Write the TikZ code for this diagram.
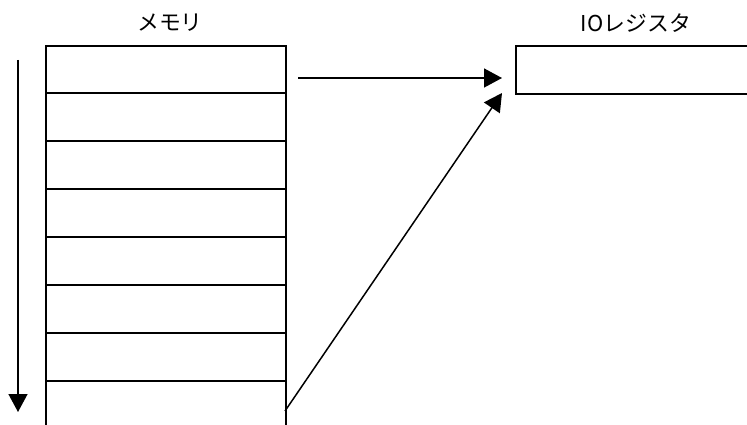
\documentclass[tikz,border=0pt]{standalone}
\usepackage{fontspec}
\setmainfont{Noto Sans CJK JP}
\usetikzlibrary{arrows.meta}
\begin{document}
\begin{tikzpicture}[x=1pt,y=-1pt,line width=1.5pt,
  arr/.style={-{Triangle[length=18pt,width=19pt]}, line width=1.5pt},
  lbl/.style={font=\fontsize{19pt}{23pt}\selectfont, inner sep=0pt, scale=1.15},
  box/.style={draw, line width=1.7pt, anchor=north west, inner sep=0pt}]
\useasboundingbox (0,0) rectangle (747,425);
\clip (0,0) rectangle (747,425);
% memory
\node[box, minimum width=240pt, minimum height=400pt] (mem) at (45,45) {};
\foreach \y in {93,141,189,237,285,333,381}
  \draw[line width=1.5pt] (45,\y) -- (285,\y);
\node[lbl] (memlbl) at (170,23) {メモリ};
% IO register
\node[box, minimum width=260pt, minimum height=48pt] (io) at (515,45) {};
\node[lbl] (iolbl) at (636,23) {IOレジスタ};
% arrows
\coordinate (v1) at (18,60);
\coordinate (v2) at (18,412);
\draw[arr] (v1) -- (v2);
\coordinate (h1) at (298,78);
\coordinate (h2) at (502,78);
\draw[arr] (h1) -- (h2);
\coordinate (d1) at (285,411);
\coordinate (d2) at (502,93);
\draw[arr] (d1) -- (d2);
\end{tikzpicture}
\end{document}
